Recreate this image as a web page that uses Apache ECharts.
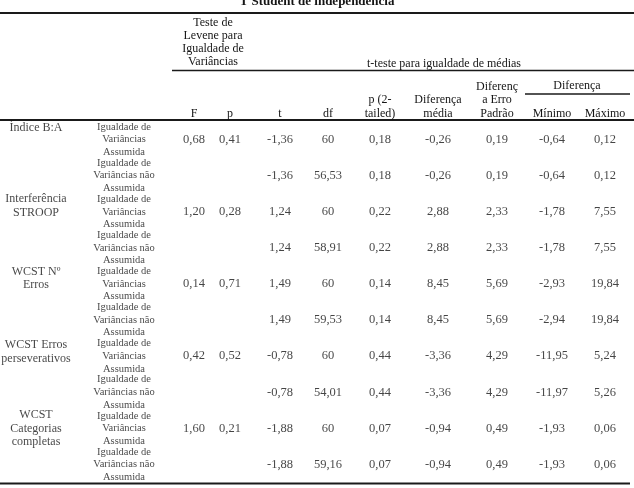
<!DOCTYPE html>
<html>
<head>
<meta charset="utf-8">
<script src="https://cdn.jsdelivr.net/npm/echarts@6/dist/echarts.min.js"></script>
<style>
html,body{margin:0;padding:0;background:#fff;}
#c{width:634px;height:488px;}
</style>
</head>
<body>
<div id="c"></div>
<script>
// ---- data ----
const title = 'T Student de independência';
const groupLabels = ['Índice B:A', 'Interferência\nSTROOP', 'WCST Nº\nErros', 'WCST Erros\nperseverativos', 'WCST\nCategorias\ncompletas'];
const rowTypes = ['Igualdade de\nVariâncias\nAssumida', 'Igualdade de\nVariâncias não\nAssumida'];
const colHeaders = ['F', 'p', 't', 'df', 'p (2-\ntailed)', 'Diferença\nmédia', 'Diferenç\na Erro\nPadrão', 'Mínimo', 'Máximo'];
const leveneHeader = 'Teste de\nLevene para\nIgualdade de\nVariâncias';
const tTestHeader = 't-teste para igualdade de médias';
const difHeader = 'Diferença';

const F        = [0.68, null, 1.20, null, 0.14, null, 0.42, null, 1.60, null];
const pLevene  = [0.41, null, 0.28, null, 0.71, null, 0.52, null, 0.21, null];
const tVal     = [-1.36, -1.36, 1.24, 1.24, 1.49, 1.49, -0.78, -0.78, -1.88, -1.88];
const dfVal    = [60, 56.53, 60, 58.91, 60, 59.53, 60, 54.01, 60, 59.16];
const p2tailed = [0.18, 0.18, 0.22, 0.22, 0.14, 0.14, 0.44, 0.44, 0.07, 0.07];
const difMedia = [-0.26, -0.26, 2.88, 2.88, 8.45, 8.45, -3.36, -3.36, -0.94, -0.94];
const difErro  = [0.19, 0.19, 2.33, 2.33, 5.69, 5.69, 4.29, 4.29, 0.49, 0.49];
const minimo   = [-0.64, -0.64, -1.78, -1.78, -2.93, -2.94, -11.95, -11.97, -1.93, -1.93];
const maximo   = [0.12, 0.12, 7.55, 7.55, 19.84, 19.84, 5.24, 5.26, 0.06, 0.06];

// ---- layout ----
const columns = [F, pLevene, tVal, dfVal, p2tailed, difMedia, difErro, minimo, maximo];
const colX = [194, 230, 280, 328, 380, 438, 497, 552, 605];
const typeX = 124, groupX = 36;
const groupRowOffset = [-0.33, 1.84, 3.84, 5.88, 8.0];
const FONT = '"Liberation Serif", "Times New Roman", serif';
const INK = '#151515';

function fmt(v) {
  if (v === null || v === undefined) return '';
  if (Number.isInteger(v)) return String(v);
  return v.toFixed(2).replace('.', ',');
}

const valueData = [];
columns.forEach((col, ci) => {
  col.forEach((v, ri) => {
    if (v !== null) valueData.push({ value: [colX[ci], ri], txt: fmt(v) });
  });
});
const typeData = F.map((_, ri) => ({ value: [typeX, ri], txt: rowTypes[ri % 2] }));
const groupData = groupLabels.map((g, gi) => ({ value: [groupX, groupRowOffset[gi]], txt: g }));

function textSeries(data, size, lh) {
  return {
    type: 'scatter', data: data, symbolSize: 1, silent: true,
    itemStyle: { color: 'transparent' },
    label: {
      show: true, position: 'inside', color: INK, fontFamily: FONT, fontSize: size,
      lineHeight: lh, align: 'center', verticalAlign: 'middle',
      formatter: p => p.data.txt
    }
  };
}

function gText(text, x, y, size, lh, weight) {
  return {
    type: 'text', silent: true,
    style: {
      text: text, x: x, y: y, fill: INK,
      font: (weight || 'normal') + ' ' + size + 'px ' + FONT,
      textAlign: 'center', textVerticalAlign: 'middle', align: 'center', verticalAlign: 'middle',
      lineHeight: lh
    }
  };
}
function gLine(x1, x2, y, w) {
  return { type: 'line', silent: true, shape: { x1: x1, y1: y, x2: x2, y2: y }, style: { stroke: '#1a1a1a', lineWidth: w } };
}

const headerLines = colHeaders.map(h => h.split('\n').length);
const graphics = [
  gText(title, 317, 2, 13, 15, 'bold'),
  gLine(0, 634, 13, 2),
  gText(leveneHeader, 213, 42.5, 12, 12.9),
  gText(tTestHeader, 444, 64, 12, 12.9),
  gLine(172, 634, 70.5, 1.5),
  gText(difHeader, 577, 86, 12, 13),
  gLine(525, 630, 94, 1.5),
  gLine(0, 634, 120, 2),
  gLine(0, 630, 483.5, 2)
];
colHeaders.forEach((h, i) => {
  const n = headerLines[i];
  const lh = 13.3;
  const yc = 113.5 - (n - 1) * lh / 2;
  graphics.push(gText(h, colX[i], yc, 12, lh));
});

const chart = echarts.init(document.getElementById('c'), null, { renderer: 'canvas' });
chart.setOption({
  animation: false,
  backgroundColor: '#ffffff',
  grid: { left: 0, right: 0, top: 121.5, height: 361, containLabel: false },
  xAxis: { type: 'value', min: 0, max: 634, show: false },
  yAxis: { type: 'value', min: -0.5, max: 9.5, inverse: true, show: false },
  series: [
    textSeries(valueData, 12.5, 14),
    textSeries(typeData, 10.5, 12.6),
    textSeries(groupData, 12, 13.4)
  ],
  graphic: graphics
});
</script>
</body>
</html>
